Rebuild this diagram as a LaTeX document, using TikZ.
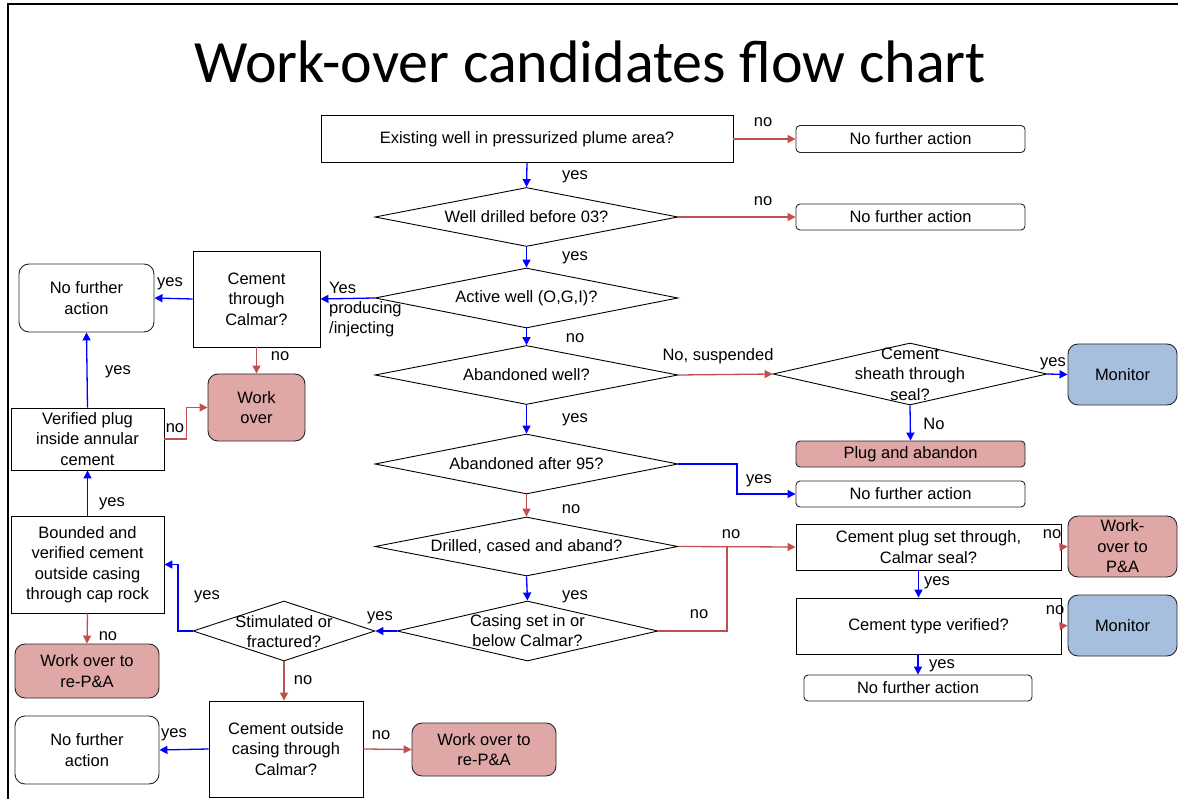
\documentclass[tikz,border=0pt]{standalone}
\usepackage{fontspec}
\setmainfont{Liberation Sans}
\newfontfamily\titlefont{Carlito}
\usetikzlibrary{arrows.meta,shapes.geometric,calc}
\definecolor{nored}{HTML}{C0504D}
\definecolor{pinkfill}{HTML}{DFA7A6}
\definecolor{monfill}{HTML}{A7BFDE}
\definecolor{edgegray}{HTML}{262626}
\newcommand{\bodyfont}{\fontsize{16.5}{20.5}\selectfont}
\tikzset{
  box/.style={draw=black, line width=0.9pt, fill=white, rectangle, inner sep=0pt, align=center, font=\bodyfont},
  rbig/.style={box, draw=edgegray, rounded corners=10pt},
  rsmall/.style={box, draw=edgegray, rounded corners=4pt},
  pinkbox/.style={fill=pinkfill},
  monbox/.style={fill=monfill},
  dia/.style={draw=black, line width=0.9pt, diamond, inner sep=0pt},
  dtext/.style={inner sep=0pt, align=center, font=\bodyfont},
  lab/.style={inner sep=0pt, font=\bodyfont, text height=11.5pt, text depth=3.5pt},
  yesln/.style={draw=blue, line width=1.3pt, -{Triangle[length=8pt,width=8pt]}},
  yesplain/.style={draw=blue, line width=1.3pt},
  noln/.style={draw=nored, line width=1.3pt, -{Triangle[length=8pt,width=8pt]}},
  noplain/.style={draw=nored, line width=1.3pt},
}
\begin{document}
\begin{tikzpicture}[x=1pt,y=-1pt]
\useasboundingbox (0,0) rectangle (1178,799);
\draw[line width=2pt] (8,800) -- (8,4.5) -- (1179,4.5);
\node[inner sep=0pt, font=\titlefont\fontsize{60}{60}\selectfont, anchor=base] (title) at (590,83) {Work-over candidates flow chart};

% nodes
\node[box, minimum width=412, minimum height=47] (q1) at (527,139) {Existing well in pressurized plume area?};
\node[rsmall, minimum width=229, minimum height=27] (nfa1) at (910.5,139) {No further action};
\node[dia, minimum width=303, minimum height=59] (d2) at (526.5,217) {};
\node[dtext] (d2t) at (d2) {Well drilled before 03?};
\node[rsmall, minimum width=229, minimum height=26] (nfa2) at (910.5,217) {No further action};
\node[dia, minimum width=303, minimum height=60] (d3) at (526.5,298) {};
\node[dtext] (d3t) at (d3) {Active well (O,G,I)?};
\node[box, minimum width=127, minimum height=96] (ctc) at (256.5,299) {Cement\\through\\Calmar?};
\node[rbig, minimum width=135, minimum height=68] (nfa3) at (86.5,298) {No further\\action};
\node[rbig, pinkbox, minimum width=97, minimum height=67] (wo1) at (256.5,407.5) {Work\\over};
\node[box, minimum width=153, minimum height=62] (vpl) at (87.5,439) {Verified plug\\inside annular\\cement};
\node[box, minimum width=153, minimum height=97] (bvc) at (87.5,564.5) {Bounded and\\verified cement\\outside casing\\through cap rock};
\node[rbig, pinkbox, minimum width=144, minimum height=54] (wo2) at (87,671) {Work over to\\re-P\&A};
\node[dia, minimum width=303, minimum height=59] (d4) at (526.5,375) {};
\node[dtext] (d4t) at (d4) {Abandoned well?};
\node[dia, minimum width=274, minimum height=62] (d5) at (910,374) {};
\node[dtext] (d5t) at (910,374) {Cement\\sheath through\\seal?};
\node[rbig, monbox, minimum width=109, minimum height=61] (mon1) at (1122.5,374.5) {Monitor};
\node[rsmall, pinkbox, minimum width=229, minimum height=26] (pa) at (910.5,454) {Plug and abandon};
\node[dia, minimum width=303, minimum height=60] (d6) at (526.5,464) {};
\node[dtext] (d6t) at (d6) {Abandoned after 95?};
\node[rsmall, minimum width=229, minimum height=26] (nfa4) at (910.5,494) {No further action};
\node[dia, minimum width=303, minimum height=59] (d7) at (526.5,546.5) {};
\node[dtext] (d7t) at (d7) {Drilled, cased and aband?};
\node[dia, minimum width=261, minimum height=60] (d8) at (527.5,631) {};
\node[dtext] (d8t) at (527.5,630.5) {Casing set in or\\below Calmar?};
\node[dia, minimum width=182, minimum height=60] (d9) at (284,631) {};
\node[dtext] (d9t) at (284,631.5) {Stimulated or\\fractured?};
\node[box, minimum width=154, minimum height=96] (coc) at (286,749) {Cement outside\\casing through\\Calmar?};
\node[rbig, minimum width=144, minimum height=68] (nfa5) at (87,750) {No further\\action};
\node[rbig, pinkbox, minimum width=144, minimum height=53] (wo3) at (484,749.5) {Work over to\\re-P\&A};
\node[box, minimum width=265, minimum height=46] (cps) at (928.5,547) {Cement plug set through,\\Calmar seal?};
\node[rbig, pinkbox, minimum width=109, minimum height=61] (wo4) at (1122.5,546.5) {Work-\\over to\\P\&A};
\node[box, minimum width=265, minimum height=56] (ctv) at (928.5,626) {Cement type verified?};
\node[rbig, monbox, minimum width=109, minimum height=61] (mon2) at (1122.5,625.5) {Monitor};
\node[rsmall, minimum width=228, minimum height=26] (nfa6) at (918,688) {No further action};

% connectors
\draw[noln] (q1.east) -- (nfa1.west);
\node[lab] (l1) at (763,123) {no};
\draw[yesln] (q1.south) -- (d2.north);
\node[lab] (l2) at (575,176) {yes};
\draw[noln] (d2.east) -- (nfa2.west);
\node[lab] (l3) at (763,202) {no};
\draw[yesln] (d2.south) -- (d3.north);
\node[lab] (l4) at (575,257) {yes};
\draw[yesln] (d3.west) -- (ctc.east);
\node[inner sep=0pt, align=left, anchor=west, font=\fontsize{16.5}{20}\selectfont] (l5) at (329,310) {Yes\\producing\\/injecting};
\draw[yesln] (ctc.west) -- (nfa3.east);
\node[lab] (l6) at (170,283) {yes};
\draw[noln] (ctc.south) -- (wo1.north);
\node[lab] (l7) at (280,357) {no};
\draw[noln] (vpl.east) -- ++(22,0) |- (wo1.west);
\node[lab] (l8) at (175,428) {no};
\draw[yesln] (vpl.north) -- (nfa3.south);
\node[lab] (l9) at (118,371) {yes};
\draw[yesln] (bvc.north) -- (vpl.south);
\node[lab] (l10) at (112,502) {yes};
\draw[noln] (bvc.south) -- (wo2.north);
\node[lab] (l11) at (108,636) {no};
\draw[yesln] (d3.south) -- (d4.north);
\node[lab] (l12) at (575,339) {no};
\draw[noln] (d4.east) -- (d5.west);
\node[lab] (l13) at (718,357) {No, suspended};
\draw[yesln] (d5.east) -- (mon1.west);
\node[lab] (l14) at (1053,363) {yes};
\draw[yesln] (d5.south) -- (pa.north);
\node[lab] (l15) at (934,425) {No};
\draw[yesln] (d4.south) -- (d6.north);
\node[lab] (l16) at (575,418) {yes};
\draw[yesln] (d6.east) -- (737,464) |- (nfa4.west);
\node[lab] (l17) at (759,479) {yes};
\draw[noln] (d6.south) -- (d7.north);
\node[lab] (l18) at (571,509) {no};
\draw[noln] (d7.east) -- (cps.west);
\node[lab] (l19) at (731,534) {no};
\coordinate (jn) at (727,546.5);
\draw[noplain] (d8.east) -| (jn);
\node[lab] (l20) at (699,614) {no};
\draw[yesln] (d7.south) -- (d8.north);
\node[lab] (l21) at (575,595) {yes};
\draw[yesln] (d8.west) -- (d9.east);
\node[lab] (l22) at (380,616) {yes};
\draw[yesln] (d9.west) -- (178,631) |- (bvc.east);
\node[lab] (l23) at (207,595) {yes};
\draw[noln] (d9.south) -- (d9.south |- coc.north);
\node[lab] (l24) at (303,680) {no};
\draw[yesln] (coc.west) -- (nfa5.east);
\node[lab] (l25) at (174,733) {yes};
\draw[noln] (coc.east) -- (wo3.west);
\node[lab] (l26) at (381,735) {no};
\draw[noln] (cps.east) -- (wo4.west);
\node[lab] (l27) at (1052,534) {no};
\draw[yesln] ($(cps.south)+(-10,0)$) -- ($(ctv.north)+(-10,0)$);
\node[lab] (l28) at (937,581) {yes};
\draw[noln] (ctv.east) -- (mon2.west);
\node[lab] (l29) at (1055,610) {no};
\draw[yesln] (ctv.south -| nfa6.north) -- (nfa6.north);
\node[lab] (l30) at (942,664) {yes};
\end{tikzpicture}
\end{document}
